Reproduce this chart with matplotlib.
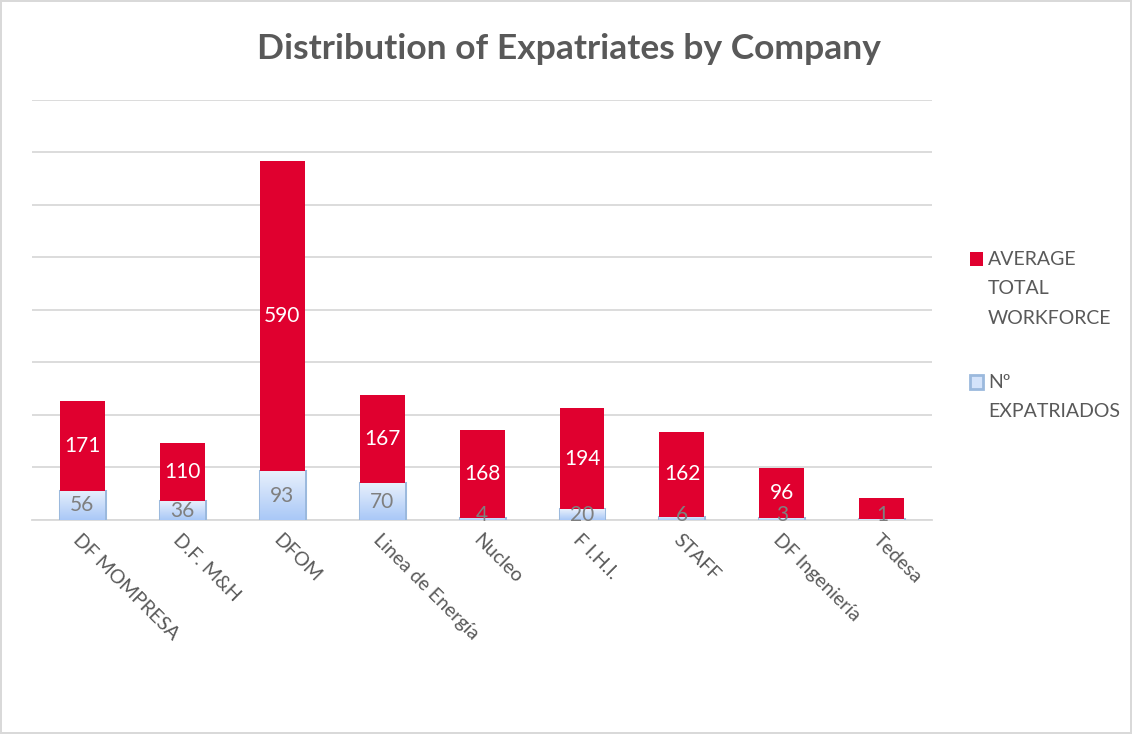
import matplotlib.pyplot as plt
import numpy as np
from matplotlib.colors import LinearSegmentedColormap
from matplotlib.patches import Rectangle

companies = ["DF MOMPRESA", "D.F. M&H", "DFOM", "Linea de Energía", "Nucleo",
             "F I.H.I.", "STAFF", "DF Ingeniería", "Tedesa"]
expatriados = [56, 36, 93, 70, 4, 20, 6, 3, 1]
workforce = [171, 110, 590, 167, 168, 194, 162, 96, 41]
# Tedesa's workforce segment carries no value label
workforce_labels = ["171", "110", "590", "167", "168", "194", "162", "96", ""]
legend_lines = [["AVERAGE", "TOTAL", "WORKFORCE"], ["Nº", "EXPATRIADOS"]]

RED = "#e0002f"
GREY = "#595959"
W, H = 1132, 734
plt.rcParams['font.family'] = ['Lato', 'DejaVu Sans']

fig = plt.figure(figsize=(W / 100, H / 100), dpi=100)
fig.patch.set_edgecolor("#d9d9d9")
fig.patch.set_linewidth(1.5)
ax = fig.add_axes([0.0283, 0.2916, 0.795, 0.5724])

x = np.arange(len(companies))
w = 0.45

# light blue bars with a vertical gradient
grad = np.linspace(0, 1, 256).reshape(-1, 1)
cmap = LinearSegmentedColormap.from_list("bl", ["#a9c8f7", "#e8f0fc"])
blue_bars = ax.bar(x, expatriados, w, color="#d4e3fa", edgecolor="#9bb9dd",
                   linewidth=2.2, zorder=3)
for b in blue_bars:
    x0, y0 = b.get_x(), b.get_y()
    im = ax.imshow(grad, cmap=cmap, aspect="auto", origin="lower",
                   extent=[x0, x0 + b.get_width(), y0, y0 + b.get_height()],
                   zorder=3.1)
    im.set_clip_path(b)

red_bars = ax.bar(x, workforce, w, bottom=expatriados, color=RED, zorder=3.2)

for i in range(len(companies)):
    mid = expatriados[i] + workforce[i] / 2
    ax.text(x[i], mid, workforce_labels[i], ha="center", va="center",
            color="white", fontsize=15, zorder=5)
    ax.text(x[i], max(expatriados[i] / 2, 10), str(expatriados[i]),
            ha="center", va="center", color="#7f7f7f", fontsize=15, zorder=5)

ax.set_xlim(-0.5, len(companies) - 0.5)
ax.set_ylim(0, 800)
ax.set_yticks(np.arange(0, 801, 100))
ax.set_yticklabels([])
ax.tick_params(axis="y", length=0)
ax.tick_params(axis="x", length=0, pad=8)
ax.grid(axis="y", color="#d9d9d9", linewidth=1.3, zorder=0)
for s in ["top", "right", "left"]:
    ax.spines[s].set_visible(False)
ax.spines["bottom"].set_color("#d9d9d9")
ax.spines["bottom"].set_linewidth(1.3)

ax.set_xticks(x)
ax.set_xticklabels(companies, rotation=-45, ha="left", rotation_mode="anchor",
                   color=GREY, fontsize=14)

fig.text(0.503, 0.933, "Distribution of Expatriates by Company", ha="center",
         va="center", fontsize=25.5, fontweight="bold", color=GREY)

# legend drawn by hand: square marker then one text line per row
legend_style = [dict(facecolor=RED, edgecolor=RED, lw=0),
                dict(facecolor="#d4e3fa", edgecolor="#9bb9dd", lw=2)]
legend_top = [259, 382]
for lines, style, y0 in zip(legend_lines, legend_style, legend_top):
    fig.patches.append(Rectangle(((970) / W, 1 - (y0 + 7) / H), 13 / W, 14 / H,
                                 transform=fig.transFigure, figure=fig, **style))
    for k, line in enumerate(lines):
        fig.text(988 / W, 1 - (y0 + k * 29.5) / H, line, ha="left",
                 va="center", fontsize=14, color=GREY)

fig.savefig("out.png", dpi=100)
